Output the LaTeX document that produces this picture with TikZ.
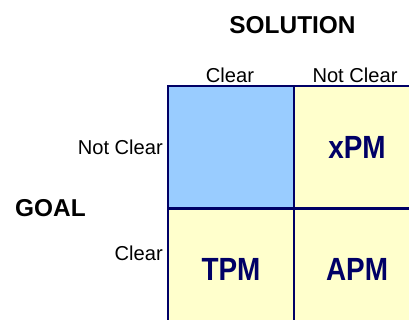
\documentclass[tikz,border=0pt]{standalone}
\usepackage{fontspec}
\setmainfont{Liberation Sans}
\definecolor{navy}{HTML}{000066}
\definecolor{cellblue}{HTML}{99CCFF}
\definecolor{cellyellow}{HTML}{FFFFCC}
\tikzset{
  cell/.style={draw=navy, line width=2.6bp, minimum width=126bp, minimum height=122.5bp,
    inner sep=0pt, text=navy, font=\fontsize{28}{30}\selectfont\bfseries},
  axislabel/.style={font=\fontsize{24.5}{26}\selectfont\bfseries, anchor=base, inner sep=0pt},
  catlabel/.style={font=\fontsize{20.2}{22}\selectfont, anchor=base, inner sep=0pt},
}
\newcommand{\tallText}[1]{\scalebox{1}[1.15]{#1}}
\begin{document}
\begin{tikzpicture}[x=1bp, y=1bp]
  \useasboundingbox (0,0) rectangle (409,320);
  \fill[white] (0,0) rectangle (409,320);
  \begin{scope}
    \clip (0,0) rectangle (409,320);
    % the 2x2 grid: goal (rows) against solution (columns)
    \node[cell, fill=cellblue]   (gnsc) at (231,172.75) {};
    \node[cell, fill=cellyellow] (gnsn) at (357,172.75) {\tallText{xPM}};
    \node[cell, fill=cellyellow] (gcsc) at (231,50.25)  {\tallText{TPM}};
    \node[cell, fill=cellyellow] (gcsn) at (357,50.25)  {\tallText{APM}};
  \end{scope}
  % axis titles
  \node[axislabel] (solution) at (292.5,287) {SOLUTION};
  \node[axislabel, anchor=base west] (goal) at (15,103.3) {GOAL};
  % column categories
  \node[catlabel] (colclear)    at (230,238) {Clear};
  \node[catlabel] (colnotclear) at (355,238) {Not Clear};
  % row categories
  \node[catlabel, anchor=base east] (rownotclear) at (163,166) {Not Clear};
  \node[catlabel, anchor=base east] (rowclear)    at (163,60)  {Clear};
\end{tikzpicture}
\end{document}
